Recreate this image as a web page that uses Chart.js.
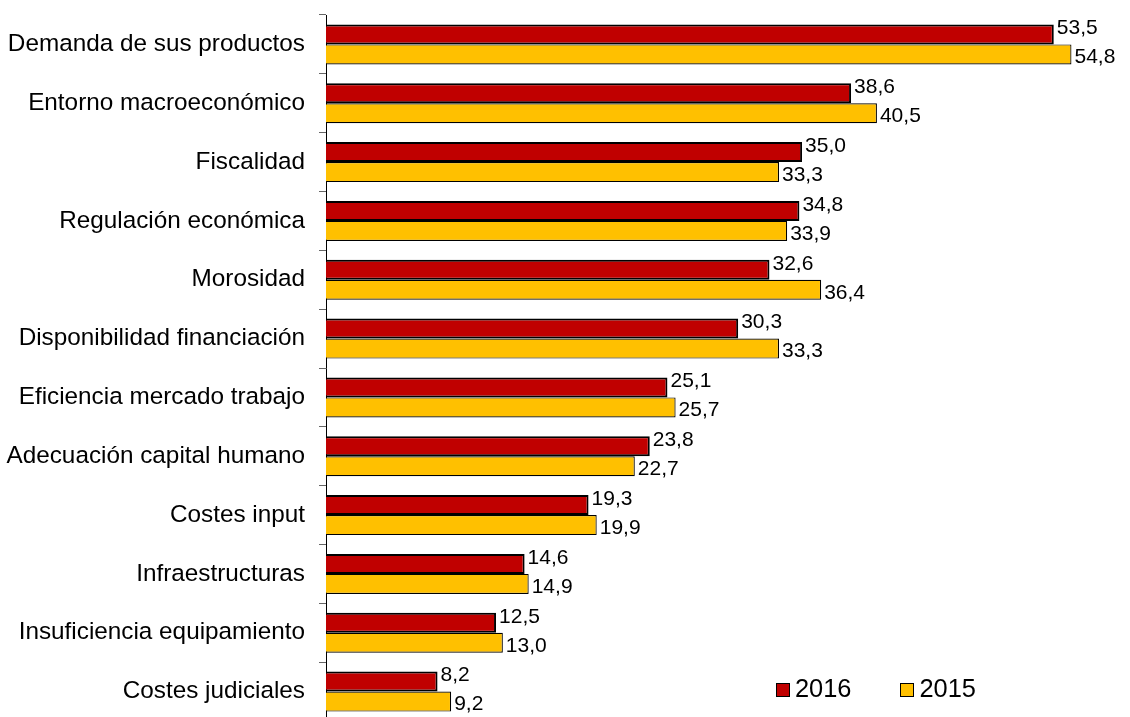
<!DOCTYPE html>
<html>
<head>
  <title>Factores</title>
  <script src="https://cdn.jsdelivr.net/npm/chart.js"></script>
  <style>
    body { margin: 0; overflow: hidden; background: #fff; font-family: "Liberation Sans", Arial, sans-serif; }
    #wrap { position: relative; width: 1130px; height: 717px; overflow: hidden; }
    #legend { position: absolute; left: 776px; top: 674px; font-size: 25.4px; color: #000; white-space: nowrap; }
    #legend span.box { display: inline-block; width: 12px; height: 12px; border: 1.5px solid #000; margin-right: 5px; vertical-align: 0px; }
    #legend span.item { margin-right: 49px; }
  </style>
</head>
<body>
  <div id="wrap">
    <canvas id="chart" width="1130" height="725"></canvas>
    <div id="legend"></div>
  </div>
  <script>
    const categories = [
      'Demanda de sus productos', 'Entorno macroeconómico', 'Fiscalidad',
      'Regulación económica', 'Morosidad', 'Disponibilidad financiación',
      'Eficiencia mercado trabajo', 'Adecuación capital humano', 'Costes input',
      'Infraestructuras', 'Insuficiencia equipamiento', 'Costes judiciales'
    ];
    const values2016 = [53.5, 38.6, 35.0, 34.8, 32.6, 30.3, 25.1, 23.8, 19.3, 14.6, 12.5, 8.2];
    const values2015 = [54.8, 40.5, 33.3, 33.9, 36.4, 33.3, 25.7, 22.7, 19.9, 14.9, 13.0, 9.2];
    const seriesNames = ['2016', '2015'];
    const seriesColors = ['#C00000', '#FFC000'];

    // value labels at the end of each bar, comma as decimal separator
    const valueLabels = {
      id: 'valueLabels',
      afterDatasetsDraw(chart) {
        const ctx = chart.ctx;
        ctx.save();
        ctx.font = '21px "Liberation Sans", Arial, sans-serif';
        ctx.fillStyle = '#000';
        ctx.textBaseline = 'middle';
        ctx.textAlign = 'left';
        chart.data.datasets.forEach((ds, di) => {
          chart.getDatasetMeta(di).data.forEach((bar, i) => {
            const txt = ds.data[i].toFixed(1).replace('.', ',');
            const dy = di === 0 ? -6 : 3;
            ctx.fillText(txt, bar.x + 3, bar.y + dy);
          });
        });
        ctx.restore();
      }
    };

    new Chart(document.getElementById('chart'), {
      type: 'bar',
      data: {
        labels: categories,
        datasets: [
          { label: seriesNames[0], data: values2016, backgroundColor: seriesColors[0], borderColor: '#000', borderWidth: 2 },
          { label: seriesNames[1], data: values2015, backgroundColor: seriesColors[1], borderColor: '#000', borderWidth: 1.2 }
        ]
      },
      options: {
        indexAxis: 'y',
        responsive: false,
        animation: false,
        devicePixelRatio: 1,
        layout: { padding: { top: 15, right: 15, bottom: 4, left: 0 } },
        datasets: { bar: { categoryPercentage: 0.68, barPercentage: 1.0 } },
        plugins: { legend: { display: false }, tooltip: { enabled: false } },
        scales: {
          x: { display: false, min: 0, max: 58 },
          y: {
            afterFit(scale) {
              scale.width = 326;
              scale.paddingTop = 0;
              scale.paddingBottom = 0;
            },
            border: { display: true, color: '#000', width: 1 },
            grid: { offset: true, drawOnChartArea: false, drawTicks: true, tickLength: 7, color: '#666' },
            ticks: { color: '#000', padding: 14, font: { size: 24.3, family: '"Liberation Sans", Arial, sans-serif' } }
          }
        }
      },
      plugins: [valueLabels]
    });

    document.getElementById('legend').innerHTML = seriesNames.map((n, i) =>
      `<span class="item"><span class="box" style="background:${seriesColors[i]}"></span>${n}</span>`).join('');
  </script>
</body>
</html>
